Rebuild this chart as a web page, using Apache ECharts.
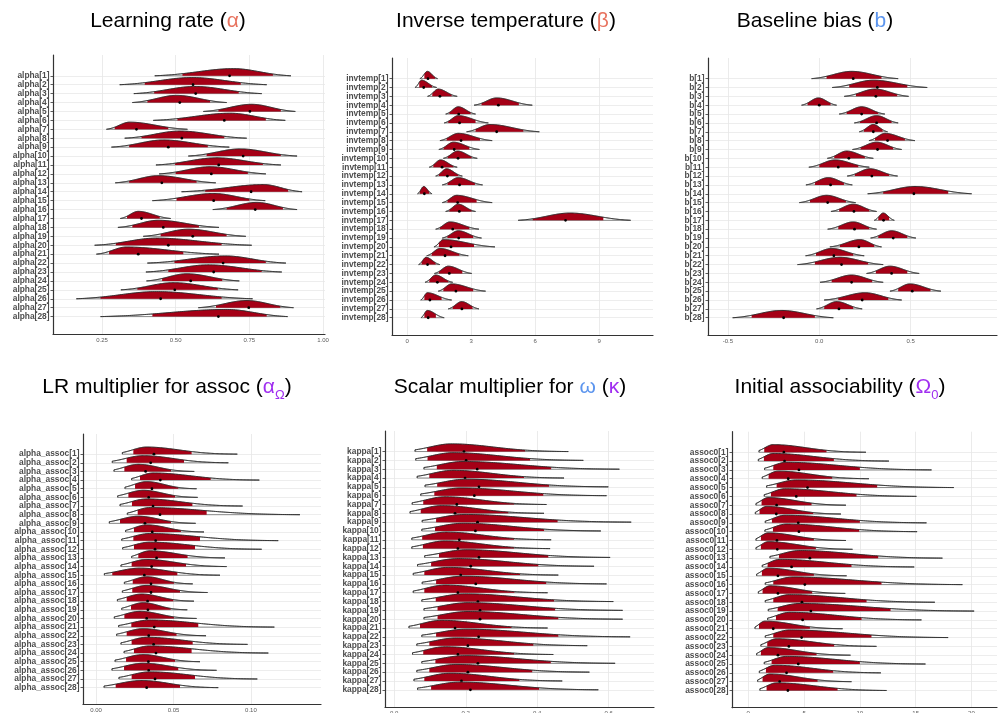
<!DOCTYPE html>
<html><head><meta charset="utf-8">
<script src="https://cdn.jsdelivr.net/npm/echarts@6/dist/echarts.min.js"></script>
<style>html,body{margin:0;padding:0;background:#fff}#c{width:1000px;height:713px}</style>
</head><body><div id="c"></div>
<script>
// Each row: [lower end, interval low, point estimate, interval high, upper end, mode]
const alphaRows = [
[0.429,0.523,0.683,0.830,0.891,0.696],[0.310,0.395,0.559,0.721,0.809,0.555],[0.358,0.427,0.568,0.714,0.792,0.565],
[0.353,0.404,0.514,0.617,0.673,0.503],[0.594,0.645,0.752,0.857,0.906,0.758],[0.424,0.506,0.665,0.806,0.872,0.685],
[0.265,0.293,0.367,0.475,0.540,0.344],[0.327,0.384,0.521,0.665,0.741,0.514],[0.282,0.342,0.475,0.609,0.682,0.458],
[0.543,0.605,0.729,0.857,0.912,0.719],[0.433,0.498,0.646,0.796,0.857,0.639],[0.444,0.500,0.621,0.745,0.806,0.617],
[0.295,0.342,0.453,0.571,0.636,0.441],[0.520,0.600,0.756,0.882,0.929,0.798],[0.421,0.503,0.629,0.750,0.804,0.628],
[0.626,0.673,0.770,0.864,0.912,0.775],[0.312,0.335,0.384,0.446,0.483,0.373],[0.304,0.353,0.458,0.579,0.647,0.441],
[0.390,0.449,0.558,0.673,0.738,0.543],[0.225,0.297,0.475,0.656,0.758,0.435],[0.231,0.274,0.373,0.526,0.647,0.333],
[0.404,0.496,0.661,0.806,0.874,0.668],[0.399,0.475,0.629,0.792,0.860,0.611],[0.401,0.454,0.551,0.658,0.716,0.537],
[0.314,0.370,0.497,0.643,0.712,0.492],[0.163,0.245,0.449,0.656,0.761,0.435],[0.577,0.637,0.748,0.855,0.900,0.741],
[0.245,0.421,0.645,0.809,0.880,0.673]];
const invtempRows = [
[0.59,0.80,0.97,1.30,1.42,0.94],[0.36,0.56,0.77,1.16,1.38,0.67],[0.95,1.17,1.53,2.08,2.34,1.45],
[3.13,3.48,4.27,5.23,5.86,4.19],[1.80,1.97,2.41,2.97,3.20,2.39],[1.73,1.92,2.45,3.20,3.80,2.39],
[2.78,3.20,4.19,5.44,6.19,3.88],[1.53,1.84,2.52,3.41,3.98,2.39],[1.48,1.70,2.20,2.91,3.38,2.16],
[1.69,1.89,2.38,3.02,3.28,2.36],[1.03,1.22,1.63,2.16,2.34,1.56],[1.33,1.48,1.88,2.39,2.58,1.84],
[1.64,1.89,2.45,3.17,3.53,2.39],[0.48,0.59,0.80,1.03,1.16,0.77],[1.64,1.88,2.36,3.25,3.98,2.31],
[1.80,1.97,2.44,3.02,3.20,2.39],[5.20,5.88,7.42,9.19,10.47,7.63],[1.33,1.53,2.13,2.91,3.36,2.00],
[1.64,1.88,2.41,3.09,3.48,2.39],[1.25,1.48,2.05,3.13,4.11,1.69],[0.91,1.14,1.77,2.44,2.86,1.53],
[0.53,0.67,0.95,1.33,1.53,0.88],[1.27,1.48,1.97,2.58,3.02,1.92],[0.83,1.03,1.41,1.92,2.13,1.33],
[1.45,1.69,2.28,3.09,3.67,2.08],[0.63,0.80,1.06,1.61,2.08,0.94],[1.92,2.13,2.56,3.06,3.36,2.55],
[0.64,0.80,0.98,1.34,1.73,0.94]];
const biasRows = [
[-0.042,0.040,0.186,0.341,0.432,0.177],[0.071,0.164,0.318,0.482,0.591,0.296],[0.137,0.201,0.310,0.427,0.489,0.305],
[-0.097,-0.064,0.000,0.062,0.095,-0.005],[0.109,0.150,0.232,0.323,0.359,0.232],[0.192,0.223,0.314,0.396,0.432,0.314],
[0.219,0.245,0.296,0.347,0.374,0.296],[0.272,0.305,0.374,0.469,0.524,0.360],[0.182,0.226,0.319,0.405,0.451,0.314],
[0.044,0.082,0.162,0.250,0.296,0.150],[-0.057,0.000,0.104,0.214,0.274,0.086],[0.153,0.195,0.288,0.383,0.429,0.277],
[-0.073,-0.024,0.062,0.135,0.181,0.049],[0.265,0.350,0.518,0.706,0.834,0.524],[-0.109,-0.051,0.046,0.146,0.199,0.040],
[0.064,0.109,0.190,0.274,0.314,0.186],[0.301,0.323,0.352,0.383,0.411,0.350],[0.046,0.104,0.193,0.274,0.314,0.186],
[0.281,0.323,0.405,0.482,0.529,0.396],[0.058,0.113,0.217,0.301,0.341,0.223],[-0.075,-0.018,0.080,0.186,0.246,0.068],
[-0.119,-0.024,0.122,0.268,0.350,0.113],[0.259,0.310,0.396,0.482,0.547,0.387],[0.004,0.068,0.177,0.290,0.350,0.177],
[0.387,0.432,0.509,0.609,0.666,0.496],[0.027,0.104,0.235,0.378,0.451,0.250],[-0.015,0.027,0.108,0.186,0.235,0.095],
[-0.474,-0.370,-0.195,-0.024,0.077,-0.206]];
const alphaAssocRows = [
[0.0170,0.0241,0.0374,0.0617,0.0912,0.0327],[0.0105,0.0198,0.0353,0.0568,0.0854,0.0305],[0.0116,0.0183,0.0320,0.0484,0.0634,0.0273],
[0.0230,0.0284,0.0415,0.0740,0.1054,0.0370],[0.0187,0.0252,0.0361,0.0531,0.0649,0.0327],[0.0140,0.0209,0.0340,0.0510,0.0656,0.0305],
[0.0155,0.0232,0.0368,0.0622,0.0946,0.0327],[0.0202,0.0269,0.0413,0.0714,0.1316,0.0348],[0.0086,0.0155,0.0316,0.0484,0.0643,0.0273],
[0.0191,0.0245,0.0363,0.0548,0.0697,0.0327],[0.0166,0.0241,0.0385,0.0671,0.1176,0.0348],[0.0172,0.0245,0.0381,0.0639,0.1069,0.0348],
[0.0230,0.0273,0.0391,0.0591,0.0832,0.0348],[0.0161,0.0230,0.0359,0.0581,0.0843,0.0327],[0.0054,0.0105,0.0312,0.0525,0.0800,0.0284],
[0.0183,0.0237,0.0355,0.0503,0.0624,0.0327],[0.0170,0.0234,0.0355,0.0542,0.0720,0.0327],[0.0138,0.0198,0.0333,0.0499,0.0632,0.0295],
[0.0166,0.0226,0.0335,0.0482,0.0589,0.0305],[0.0118,0.0183,0.0327,0.0503,0.0649,0.0284],[0.0146,0.0228,0.0376,0.0660,0.1151,0.0348],
[0.0133,0.0198,0.0340,0.0520,0.0710,0.0305],[0.0161,0.0230,0.0372,0.0624,0.0978,0.0327],[0.0181,0.0245,0.0387,0.0617,0.1112,0.0348],
[0.0123,0.0194,0.0338,0.0510,0.0671,0.0305],[0.0103,0.0181,0.0340,0.0531,0.0778,0.0305],[0.0148,0.0230,0.0381,0.0639,0.1041,0.0348],
[0.0052,0.0127,0.0327,0.0542,0.0789,0.0295]];
const kappaRows = [
[0.058,0.092,0.195,0.366,0.487,0.160],[0.060,0.093,0.201,0.380,0.529,0.165],[0.083,0.119,0.232,0.439,0.630,0.193],
[0.064,0.098,0.198,0.363,0.475,0.165],[0.086,0.120,0.237,0.433,0.599,0.202],[0.074,0.112,0.224,0.417,0.594,0.188],
[0.050,0.081,0.175,0.335,0.426,0.142],[0.044,0.074,0.170,0.319,0.419,0.132],[0.078,0.117,0.233,0.457,0.663,0.198],
[0.077,0.114,0.227,0.419,0.578,0.193],[0.049,0.078,0.182,0.335,0.439,0.146],[0.049,0.080,0.178,0.335,0.436,0.142],
[0.085,0.125,0.237,0.431,0.604,0.202],[0.065,0.103,0.214,0.403,0.559,0.179],[0.053,0.084,0.186,0.352,0.459,0.151],
[0.078,0.117,0.228,0.425,0.594,0.193],[0.053,0.084,0.178,0.336,0.429,0.142],[0.077,0.116,0.234,0.447,0.613,0.198],
[0.083,0.121,0.240,0.450,0.639,0.207],[0.083,0.121,0.240,0.459,0.639,0.207],[0.041,0.072,0.170,0.328,0.429,0.132],
[0.077,0.117,0.236,0.459,0.660,0.202],[0.063,0.098,0.206,0.389,0.540,0.174],[0.051,0.081,0.178,0.335,0.445,0.142],
[0.077,0.115,0.234,0.438,0.618,0.198],[0.063,0.098,0.206,0.386,0.546,0.174],[0.055,0.084,0.188,0.350,0.470,0.156],
[0.065,0.103,0.213,0.405,0.571,0.184]];
const assoc0Rows = [
[0.96,1.43,3.19,7.01,10.54,2.24],[0.90,1.40,3.25,7.67,12.60,2.24],[1.46,2.24,4.54,10.00,16.42,3.43],
[1.25,1.82,3.58,7.52,10.81,2.69],[1.64,2.54,5.31,11.55,18.42,4.33],[1.43,2.03,4.30,9.70,15.07,3.28],
[0.69,1.19,2.54,5.67,8.75,1.79],[0.63,1.01,2.51,5.82,8.30,1.64],[1.52,2.12,4.48,10.00,15.97,3.28],
[1.49,2.21,4.54,9.94,15.13,3.43],[0.69,1.13,2.57,5.88,8.75,1.79],[0.69,1.13,2.60,6.06,9.34,1.79],
[1.94,2.75,5.52,11.64,17.40,4.63],[1.25,1.73,3.88,9.25,14.87,2.84],[0.75,1.22,2.66,5.88,8.81,1.79],
[1.52,2.24,5.07,11.94,19.19,4.03],[0.90,1.28,2.66,5.73,8.69,1.94],[1.52,2.24,4.81,10.60,16.72,3.73],
[1.79,2.63,5.61,12.75,20.24,4.63],[1.73,2.48,4.87,10.15,15.52,3.73],[0.60,0.96,2.24,5.52,8.45,1.49],
[1.52,2.24,4.78,11.04,17.91,3.73],[1.13,1.70,3.64,7.70,11.49,2.54],[0.75,1.13,2.66,6.12,9.16,1.79],
[1.43,2.09,4.48,10.00,15.88,3.43],[0.99,1.58,3.43,7.61,11.88,2.39],[0.84,1.28,2.81,6.21,9.25,1.94],
[1.04,1.64,3.55,8.00,12.39,2.54]];

const subjects = [1,2,3,4,5,6,7,8,9,10,11,12,13,14,15,16,17,18,19,20,21,22,23,24,25,26,27,28];
const alphaNames = subjects.map(i => 'alpha[' + i + ']');
const invtempNames = subjects.map(i => 'invtemp[' + i + ']');
const biasNames = subjects.map(i => 'b[' + i + ']');
const alphaAssocNames = subjects.map(i => 'alpha_assoc[' + i + ']');
const kappaNames = subjects.map(i => 'kappa[' + i + ']');
const assoc0Names = subjects.map(i => 'assoc0[' + i + ']');

const alphaTicks = [0.25, 0.5, 0.75, 1.0], alphaTickLabels = ['0.25','0.50','0.75','1.00'];
const invtempTicks = [0, 3, 6, 9], invtempTickLabels = ['0','3','6','9'];
const biasTicks = [-0.5, 0, 0.5], biasTickLabels = ['-0.5','0.0','0.5'];
const alphaAssocTicks = [0, 0.05, 0.1], alphaAssocTickLabels = ['0.00','0.05','0.10'];
const kappaTicks = [0, 0.2, 0.4, 0.6], kappaTickLabels = ['0.0','0.2','0.4','0.6'];
const assoc0Ticks = [0, 5, 10, 15, 20], assoc0TickLabels = ['0','5','10','15','20'];

const titleTexts = [
  '{t|Learning rate (}{r|α}{t|)}',
  '{t|Inverse temperature (}{r|β}{t|)}',
  '{t|Baseline bias (}{b|b}{t|)}',
  '{t|LR multiplier for assoc (}{p|α}{ps|Ω}{t|)}',
  '{t|Scalar multiplier for }{b|ω}{t| (}{p|κ}{t|)}',
  '{t|Initial associability (}{p|Ω}{ps|0}{t|)}'
];

const FONT = '"Liberation Sans", Arial, Helvetica, sans-serif';
const panels = [
  {rows: alphaRows, names: alphaNames, ticks: alphaTicks, tl: alphaTickLabels, grid: {left: 53, top: 55, width: 272, height: 279}, xMin: 0.0837, xMax: 1.0068, h: 0.8, kL: 2.5, kR: 2.5, trunc: false, tx: 168, ty: 4},
  {rows: invtempRows, names: invtempNames, ticks: invtempTicks, tl: invtempTickLabels, grid: {left: 392, top: 58, width: 261, height: 277}, xMin: -0.717, xMax: 11.52, h: 0.82, kL: 2.5, kR: 2.5, trunc: false, tx: 506, ty: 4},
  {rows: biasRows, names: biasNames, ticks: biasTicks, tl: biasTickLabels, grid: {left: 708, top: 58, width: 289, height: 277}, xMin: -0.609, xMax: 0.973, h: 0.82, kL: 2.5, kR: 2.5, trunc: false, tx: 815, ty: 4},
  {rows: alphaAssocRows, names: alphaAssocNames, ticks: alphaAssocTicks, tl: alphaAssocTickLabels, grid: {left: 83, top: 434, width: 238, height: 270.5}, xMin: -0.00839, xMax: 0.1452, h: 0.82, kL: 1.5, kR: 4, trunc: true, tx: 167, ty: 370},
  {rows: kappaRows, names: kappaNames, ticks: kappaTicks, tl: kappaTickLabels, grid: {left: 385, top: 431, width: 269, height: 276}, xMin: -0.026, xMax: 0.7268, h: 0.87, kL: 1.5, kR: 4, trunc: true, tx: 510, ty: 370},
  {rows: assoc0Rows, names: assoc0Names, ticks: assoc0Ticks, tl: assoc0TickLabels, grid: {left: 732, top: 431.7, width: 265, height: 276}, xMin: -1.459, xMax: 22.29, h: 0.86, kL: 1.5, kR: 4, trunc: true, tx: 840, ty: 370}
];

const RED = '#A50016';

function makeRender(p) {
  return function (params, api) {
    const lo = api.value(0), ql = api.value(1), pt = api.value(2), qh = api.value(3), hi = api.value(4), pk = api.value(5), row = api.value(6);
    const base = api.coord([pk, row])[1];
    const H = Math.abs(api.size([0, 1])[1]) * p.h;
    const floorL = p.trunc ? 0 : Math.exp(-p.kL);
    const floorR = Math.exp(-p.kR);
    const dens = function (x) {
      if (x <= pk) {
        const u = (pk - x) / Math.max(pk - lo, 1e-9);
        return (Math.exp(-p.kL * u * u) - floorL) / (1 - floorL);
      }
      const u = (x - pk) / Math.max(hi - pk, 1e-9);
      return (Math.exp(-p.kR * u * u) - floorR) / (1 - floorR);
    };
    const top = function (a, b, n) {
      const pts = [];
      for (let i = 0; i <= n; i++) {
        const x = a + (b - a) * i / n;
        pts.push([api.coord([x, row])[0], base - H * dens(x)]);
      }
      return pts;
    };
    const xl = api.coord([lo, row])[0], xh = api.coord([hi, row])[0];
    const xql = api.coord([ql, row])[0], xqh = api.coord([qh, row])[0];
    const fullTop = top(lo, hi, 90);
    const full = [[xl, base]].concat(fullTop, [[xh, base]]);
    const red = [[xql, base]].concat(top(ql, qh, 70), [[xqh, base]]);
    const d = api.coord([pt, row]);
    return {
      type: 'group',
      children: [
        {type: 'polygon', shape: {points: full}, style: {fill: '#ffffff', stroke: '#6a6a6a', lineWidth: 0.8}},
        {type: 'polygon', shape: {points: red}, style: {fill: RED}},
        {type: 'polyline', shape: {points: [[xl, base]].concat(fullTop)}, style: {fill: null, stroke: '#222', lineWidth: 0.75}},
        {type: 'circle', shape: {cx: d[0], cy: d[1], r: 1.4}, style: {fill: '#000'}}
      ]
    };
  };
}

const titleRich = {
  t: {fontSize: 21, fontWeight: 'normal', fontFamily: FONT, color: '#000', lineHeight: 28, verticalAlign: 'bottom'},
  r: {fontSize: 21, fontWeight: 'normal', fontFamily: FONT, color: '#E8735F', lineHeight: 28, verticalAlign: 'bottom'},
  b: {fontSize: 21, fontWeight: 'normal', fontFamily: FONT, color: '#5C95EE', lineHeight: 28, verticalAlign: 'bottom'},
  p: {fontSize: 21, fontWeight: 'normal', fontFamily: FONT, color: '#A02EF0', lineHeight: 28, verticalAlign: 'bottom'},
  ps: {fontSize: 13, fontWeight: 'normal', fontFamily: FONT, color: '#A02EF0', lineHeight: 13, verticalAlign: 'bottom', padding: [0, 0, -4, 0]}
};

const option = {
  backgroundColor: '#ffffff',
  animation: false,
  title: panels.map((p, i) => ({
    text: titleTexts[i], left: p.tx, top: p.ty, textAlign: 'center', padding: 0,
    textStyle: {fontWeight: 'normal', rich: titleRich}
  })),
  grid: panels.map(p => Object.assign({outerBoundsMode: 'none', containLabel: false}, p.grid)),
  xAxis: panels.map((p, i) => ({
    type: 'value', gridIndex: i, min: p.xMin, max: p.xMax,
    axisLine: {show: true, onZero: false, lineStyle: {color: '#333', width: 1.2}},
    axisTick: {show: false, customValues: p.ticks},
    axisLabel: {customValues: p.ticks, formatter: v => p.tl[p.ticks.indexOf(v)] !== undefined ? p.tl[p.ticks.indexOf(v)] : String(v),
      fontSize: 6, color: '#5a5a5a', margin: 3, fontFamily: FONT},
    splitLine: {show: true, lineStyle: {color: '#e6e6e6', width: 0.8}},
    minorSplitLine: {show: false}
  })),
  yAxis: panels.map((p, i) => ({
    type: 'value', gridIndex: i, inverse: true, min: -1.33, max: 29.95,
    axisLine: {show: true, onZero: false, lineStyle: {color: '#333', width: 1.2}},
    axisTick: {show: true, length: 2.5, customValues: subjects, lineStyle: {color: '#333', width: 0.8}},
    axisLabel: {customValues: subjects, formatter: v => p.names[v - 1] || '', fontSize: 8.4, fontWeight: 'bold',
      color: '#4D4D4D', margin: 3.5, fontFamily: FONT},
    splitLine: {show: true, lineStyle: {color: '#e9e9e9', width: 0.8}}
  })),
  series: panels.map((p, i) => ({
    type: 'custom', xAxisIndex: i, yAxisIndex: i,
    renderItem: makeRender(p),
    encode: {x: [0, 4], y: 6},
    data: p.rows.map((r, j) => r.concat([subjects[j]])),
    silent: true
  }))
};

const chart = echarts.init(document.getElementById('c'), null, {renderer: 'canvas'});
chart.setOption(option);
</script>
</body></html>
